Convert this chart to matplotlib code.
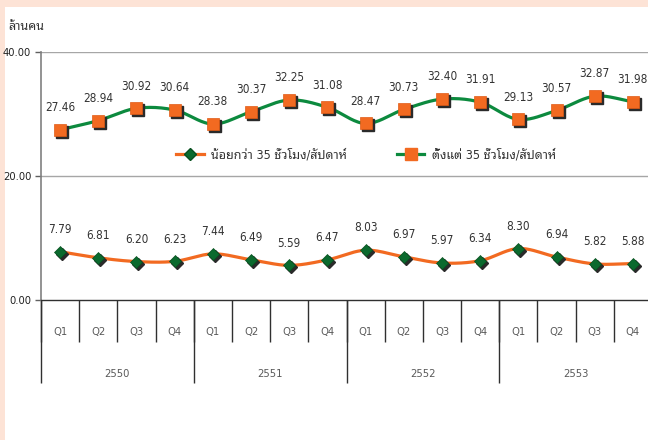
import matplotlib
matplotlib.use("Agg")
import numpy as np
import matplotlib.pyplot as plt
import matplotlib.transforms as mtransforms
from matplotlib.lines import Line2D
from matplotlib.patches import Rectangle

# ── Data ────────────────────────────────────────────────────────────
quarters = ["Q1", "Q2", "Q3", "Q4"]
years = ["2550", "2551", "2552", "2553"]
under35 = [7.79, 6.81, 6.20, 6.23, 7.44, 6.49, 5.59, 6.47,
           8.03, 6.97, 5.97, 6.34, 8.30, 6.94, 5.82, 5.88]
over35 = [27.46, 28.94, 30.92, 30.64, 28.38, 30.37, 32.25, 31.08,
          28.47, 30.73, 32.40, 31.91, 29.13, 30.57, 32.87, 31.98]
label_under = "น้อยกว่า 35 ชั่วโมง/สัปดาห์"
label_over = "ตั้งแต่ 35 ชั่วโมง/สัปดาห์"
unit_label = "ล้านคน"

# ── Style ───────────────────────────────────────────────────────────
C_PEACH = "#fde3d6"
C_ORANGE = "#f26a21"
C_GREEN_LINE = "#0c8a3e"
C_GREEN_MK = "#0b6a2e"
C_SHADOW = "#2a2a2a"
C_TEXT = "#333333"
C_GRID = "#a6a6a6"

plt.rcParams["font.family"] = ["DejaVu Sans", "Noto Sans Thai Looped"]
plt.rcParams["font.stretch"] = "condensed"

fig = plt.figure(figsize=(6.48, 4.4), dpi=100)
fig.patch.set_facecolor(C_PEACH)
fig.add_artist(Rectangle((5 / 648, 0), 1, 433 / 440, transform=fig.transFigure,
                         facecolor="white", edgecolor="none", zorder=0))

ax = fig.add_axes([41 / 648, 1 - 300 / 440, 611 / 648, 248 / 440])
ax.set_facecolor("none")
n = len(under35)
x = np.arange(n)
ax.set_xlim(-0.5, n - 0.5)
ax.set_ylim(0, 40)


def smooth(xs, ys, steps=20):
    # Catmull-Rom curve through the points (like Excel's smoothed line)
    xs = np.asarray(xs, float)
    ys = np.asarray(ys, float)
    px = np.concatenate([[2 * xs[0] - xs[1]], xs, [2 * xs[-1] - xs[-2]]])
    py = np.concatenate([[2 * ys[0] - ys[1]], ys, [2 * ys[-1] - ys[-2]]])
    outx, outy = [], []
    t = np.linspace(0, 1, steps, endpoint=False)
    for i in range(1, len(px) - 2):
        for arr, out in ((px, outx), (py, outy)):
            p0, p1, p2, p3 = arr[i - 1], arr[i], arr[i + 1], arr[i + 2]
            out.extend(0.5 * (2 * p1 + (-p0 + p2) * t
                              + (2 * p0 - 5 * p1 + 4 * p2 - p3) * t ** 2
                              + (-p0 + 3 * p1 - 3 * p2 + p3) * t ** 3))
    outx.append(xs[-1])
    outy.append(ys[-1])
    return np.array(outx), np.array(outy)


shadow = mtransforms.offset_copy(ax.transData, fig=fig, x=2, y=-2, units="dots")

# lines
sx, sy = smooth(x, over35)
ax.plot(sx, sy, color=C_GREEN_LINE, lw=2.3, zorder=3, solid_capstyle="round")
sx, sy = smooth(x, under35)
ax.plot(sx, sy, color=C_ORANGE, lw=2.3, zorder=3, solid_capstyle="round")

# markers with drop shadow
ax.plot(x, over35, ls="none", marker="s", ms=8, color=C_SHADOW, transform=shadow, zorder=4)
ax.plot(x, over35, ls="none", marker="s", ms=8, mfc=C_ORANGE, mec="#e05a15", mew=0.5, zorder=5)
ax.plot(x, under35, ls="none", marker="D", ms=6, color=C_SHADOW, transform=shadow, zorder=4)
ax.plot(x, under35, ls="none", marker="D", ms=6, mfc=C_GREEN_MK, mec="#08501f", mew=0.5, zorder=5)

# data labels
for xi, v in zip(x, over35):
    ax.annotate(f"{v:.2f}", (xi, v), xytext=(0, 16), textcoords="offset points",
                ha="center", va="center", fontsize=8.5, color=C_TEXT)
for xi, v in zip(x, under35):
    ax.annotate(f"{v:.2f}", (xi, v), xytext=(0, 16), textcoords="offset points",
                ha="center", va="center", fontsize=8.5, color=C_TEXT)

# axes styling
for s in ("top", "right"):
    ax.spines[s].set_visible(False)
ax.spines["left"].set_color("#808080")
ax.spines["left"].set_linewidth(1.2)
ax.spines["bottom"].set_color("#303030")
ax.spines["bottom"].set_linewidth(1.0)
ax.set_yticks([0, 20, 40])
ax.set_yticklabels(["0.00", "20.00", "40.00"])
ax.tick_params(axis="y", length=4, width=1, color="#606060", labelsize=8,
               labelcolor="#222222", pad=3)
for gy in (20, 40):
    ax.axhline(gy, color=C_GRID, lw=1.0, zorder=1)

# category axis: quarter separators and year separators
ax.set_xticks(np.arange(-0.5, n, 1.0))
ax.set_xticklabels([])
ax.tick_params(axis="x", length=30, width=1, color="#303030", direction="out")
year_ax = ax.secondary_xaxis("bottom")
year_ax.set_xticks(np.arange(-0.5, n + 1, 4.0))
year_ax.set_xticklabels([])
year_ax.tick_params(axis="x", length=60, width=1, color="#303030")
year_ax.spines["bottom"].set_visible(False)

for i in range(n):
    ax.annotate(quarters[i % 4], (x[i], 0), xycoords=("data", "axes fraction"),
                xytext=(0, -23), textcoords="offset points", ha="center", va="center",
                fontsize=8, color="#595959", annotation_clip=False)
for k, yr in enumerate(years):
    ax.annotate(yr, (4 * k + 1.5, 0), xycoords=("data", "axes fraction"),
                xytext=(0, -53), textcoords="offset points", ha="center", va="center",
                fontsize=8, color="#595959", annotation_clip=False)

fig.text(8 / 648, 1 - 27 / 440, unit_label, fontsize=9, color=C_TEXT,
         ha="left", va="center")

# legend
handles = [
    Line2D([], [], color=C_ORANGE, lw=2.3, marker="D", ms=6, mfc=C_GREEN_MK, mec="#08501f"),
    Line2D([], [], color=C_GREEN_LINE, lw=2.3, marker="s", ms=8, mfc=C_ORANGE, mec=C_ORANGE),
]
ax.legend(handles, [label_under, label_over], ncol=2, loc="center",
          bbox_to_anchor=((366 - 41) / 611, (300 - 155) / 248), frameon=False,
          fontsize=9, handlelength=2.2, columnspacing=4.0, handletextpad=0.6,
          labelcolor=C_TEXT)

fig.savefig("out.png", dpi=100, facecolor=fig.get_facecolor())
